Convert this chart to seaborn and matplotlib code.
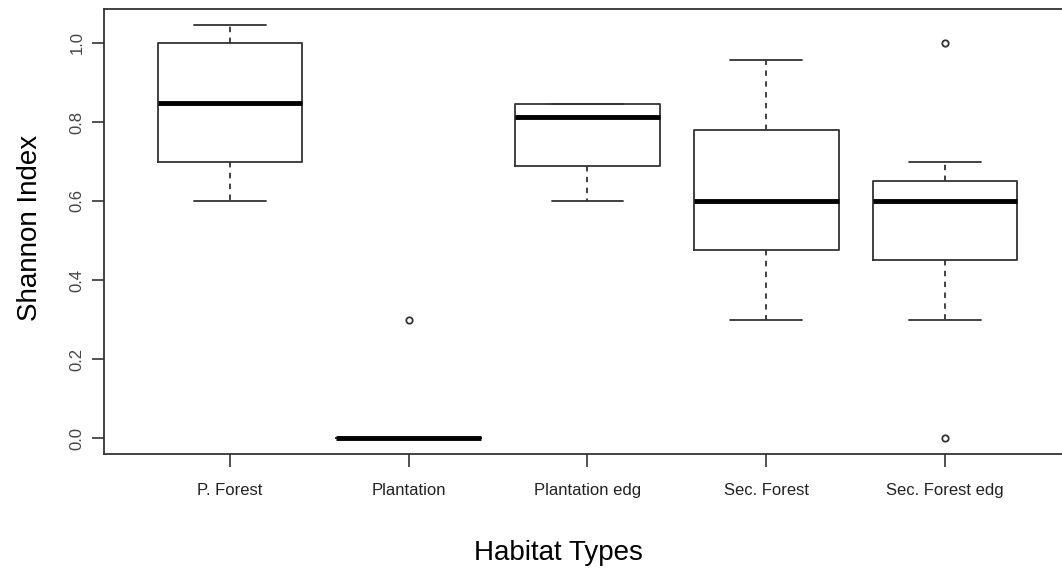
import matplotlib
matplotlib.use("Agg")
import matplotlib.pyplot as plt
import seaborn as sns

# ---- data ----
categories = ["P. Forest", "Plantation", "Plantation edg", "Sec. Forest", "Sec. Forest edg"]
whisker_low = [0.60, 0.00, 0.60, 0.30, 0.30]
q1_values = [0.70, 0.00, 0.688, 0.476, 0.45]
median_values = [0.848, 0.00, 0.813, 0.60, 0.60]
q3_values = [1.00, 0.00, 0.845, 0.78, 0.65]
whisker_high = [1.046, 0.00, 0.845, 0.957, 0.70]
outlier_groups = ["Plantation", "Sec. Forest edg", "Sec. Forest edg"]
outlier_values = [0.30, 1.00, 0.00]
y_ticks = [0.0, 0.2, 0.4, 0.6, 0.8, 1.0]
y_tick_labels = ["0.0", "0.2", "0.4", "0.6", "0.8", "1.0"]

sns.set_theme(style="ticks")
plt.rcParams['font.family'] = ['Liberation Sans', 'DejaVu Sans']

W, H = 1062, 570
fig = plt.figure(figsize=(W / 100, H / 100), dpi=100)
left_px, right_px, top_px, bottom_px = 104, 1083, 9, 454
ax = fig.add_axes([left_px / W, 1 - bottom_px / H, (right_px - left_px) / W, (bottom_px - top_px) / H])

line_col = "#333333"

# outliers via seaborn (sets up categorical axis too)
sns.stripplot(x=outlier_groups, y=outlier_values, order=categories, jitter=False,
              color="white", edgecolor=line_col, linewidth=1.3, size=4.6, ax=ax, zorder=5)

stats = []
for i, c in enumerate(categories):
    stats.append(dict(label=c, whislo=whisker_low[i], q1=q1_values[i], med=median_values[i],
                      q3=q3_values[i], whishi=whisker_high[i], fliers=[]))

ax.bxp(stats, positions=list(range(len(categories))), widths=0.81, capwidths=0.40,
       showfliers=False, manage_ticks=False, patch_artist=False,
       boxprops=dict(color=line_col, linewidth=1.3),
       medianprops=dict(color="black", linewidth=3.5, solid_capstyle="butt"),
       whiskerprops=dict(color=line_col, linewidth=1.3, linestyle=(0, (3.0, 3.0))),
       capprops=dict(color=line_col, linewidth=1.3))

# axes ranges to match the reference layout
tick0_px, step_px = 230, 178.75
ax.set_xlim((left_px - tick0_px) / step_px, (right_px - tick0_px) / step_px)
y0_px, unit_px = 438, 395
ax.set_ylim((y0_px - bottom_px) / unit_px, (y0_px - top_px) / unit_px)

ax.set_xticks(range(len(categories)))
ax.set_xticklabels(categories, fontsize=12, color="#222222")
ax.set_yticks(y_ticks)
ax.set_yticklabels(y_tick_labels, rotation=90, va="center", fontsize=12, color="#444444")
ax.tick_params(axis="both", direction="out", length=9, width=1.2, color=line_col,
               bottom=True, left=True, top=False, right=False)
ax.tick_params(axis="x", pad=12)
ax.tick_params(axis="y", pad=5)

for side in ["left", "bottom", "top", "right"]:
    ax.spines[side].set_visible(True)
    ax.spines[side].set_color(line_col)
    ax.spines[side].set_linewidth(1.3)

ax.set_xlabel("Habitat Types", fontsize=20, color="black")
ax.xaxis.set_label_coords((558 - left_px) / (right_px - left_px), (bottom_px - 553) / (bottom_px - top_px))
ax.xaxis.label.set_va("center")
ax.set_ylabel("Shannon Index", fontsize=20, color="black")
ax.yaxis.set_label_coords((30 - left_px) / (right_px - left_px), (bottom_px - 228) / (bottom_px - top_px))
ax.yaxis.label.set_va("center")

fig.savefig("out.png", dpi=100)
